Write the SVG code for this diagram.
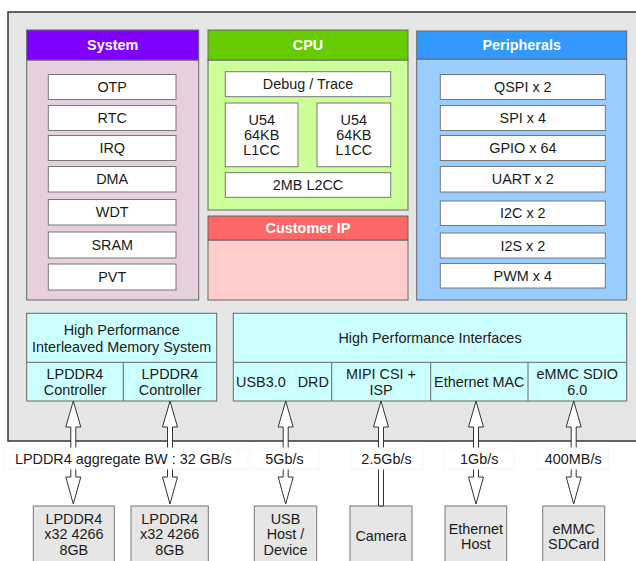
<svg xmlns="http://www.w3.org/2000/svg" width="636" height="561" viewBox="0 0 636 561">
<style>
text{font-family:"Liberation Sans",Arial,sans-serif;font-size:14.4px;fill:#1a1a1a;text-anchor:middle}
.hd{font-weight:bold;fill:#ffffff}
.it{fill:#ffffff;stroke:#777777;stroke-width:1}
.ct{stroke:#666666;stroke-width:1}
.bx{fill:#e6e6e6;stroke:#777777;stroke-width:1}
.cy{fill:#ccffff;stroke:#666666;stroke-width:1}
.ar{fill:#ffffff;stroke:#333333;stroke-width:1;stroke-linejoin:miter}
.lb{fill:#ffffff;stroke:#f6f6f6;stroke-width:1}
</style>
<rect width="636" height="561" fill="#ffffff"/>
<g id="soc">
<rect x="8" y="12" width="640" height="429" fill="#e6e6e6" stroke="#333333" stroke-width="1.5"/>
</g>
<g id="system">
<rect class="ct" x="26.7" y="60" width="172" height="240" fill="#e6d0de"/>
<rect class="ct" x="26.7" y="30" width="172" height="30" fill="#7f00ff"/>
<text class="hd" x="112.7" y="50">System</text>
<rect class="it" x="48.3" y="74.5" width="127.7" height="25"/><text x="112.2" y="92">OTP</text>
<rect class="it" x="48.3" y="105.5" width="127.7" height="25"/><text x="112.2" y="123">RTC</text>
<rect class="it" x="48.3" y="135.5" width="127.7" height="25"/><text x="112.2" y="153">IRQ</text>
<rect class="it" x="48.3" y="166.5" width="127.7" height="25.5"/><text x="112.2" y="184">DMA</text>
<rect class="it" x="48.3" y="199.5" width="127.7" height="25.5"/><text x="112.2" y="217">WDT</text>
<rect class="it" x="48.3" y="232" width="127.7" height="26"/><text x="112.2" y="250">SRAM</text>
<rect class="it" x="48.3" y="264" width="127.7" height="26"/><text x="112.2" y="282">PVT</text>
</g>
<g id="cpu">
<rect class="ct" x="208" y="60" width="200" height="150" fill="#ccff99"/>
<rect class="ct" x="208" y="30" width="200" height="30" fill="#66cc00"/>
<text class="hd" x="308" y="50">CPU</text>
<rect class="it" x="225.3" y="71.7" width="165.4" height="25"/><text x="308" y="89">Debug / Trace</text>
<rect class="it" x="225.3" y="103" width="72.7" height="63.7"/>
<text x="261.7" y="125">U54</text><text x="261.7" y="140">64KB</text><text x="261.7" y="155">L1CC</text>
<rect class="it" x="317" y="103" width="73.7" height="63.7"/>
<text x="353.8" y="125">U54</text><text x="353.8" y="140">64KB</text><text x="353.8" y="155">L1CC</text>
<rect class="it" x="225.3" y="172.7" width="165.4" height="24.6"/><text x="308" y="190">2MB L2CC</text>
</g>
<g id="customer-ip">
<rect class="ct" x="208" y="240" width="200" height="60" fill="#ffcccc"/>
<rect class="ct" x="208" y="216" width="200" height="24" fill="#ff6666"/>
<text class="hd" x="308" y="233">Customer IP</text>
</g>
<g id="peripherals">
<rect class="ct" x="416.7" y="59" width="210" height="241" fill="#99ccff"/>
<rect class="ct" x="416.7" y="31" width="210" height="28" fill="#3399ff"/>
<text class="hd" x="521.7" y="50">Peripherals</text>
<rect class="it" x="440.3" y="74.5" width="165" height="25"/><text x="522.8" y="92">QSPI x 2</text>
<rect class="it" x="440.3" y="105.5" width="165" height="25"/><text x="522.8" y="123">SPI x 4</text>
<rect class="it" x="440.3" y="135.5" width="165" height="25"/><text x="522.8" y="153">GPIO x 64</text>
<rect class="it" x="440.3" y="166.5" width="165" height="25.5"/><text x="522.8" y="184">UART x 2</text>
<rect class="it" x="440.3" y="201" width="165" height="24.5"/><text x="522.8" y="218">I2C x 2</text>
<rect class="it" x="440.3" y="233" width="165" height="25"/><text x="522.8" y="250.5">I2S x 2</text>
<rect class="it" x="440.3" y="263.5" width="165" height="24.5"/><text x="522.8" y="281">PWM x 4</text>
</g>
<g id="memory">
<rect class="cy" x="26.7" y="313.3" width="190" height="87.7"/>
<line class="ct" x1="26.7" y1="362.3" x2="216.7" y2="362.3"/>
<line class="ct" x1="123.3" y1="362.3" x2="123.3" y2="401"/>
<text x="121.7" y="334.5">High Performance</text>
<text x="121.7" y="352">Interleaved Memory System</text>
<text x="75" y="379">LPDDR4</text><text x="75" y="394.5">Controller</text>
<text x="170" y="379">LPDDR4</text><text x="170" y="394.5">Controller</text>
</g>
<g id="interfaces">
<rect class="cy" x="233.3" y="313.3" width="393.4" height="87.7"/>
<line class="ct" x1="233.3" y1="362.3" x2="626.7" y2="362.3"/>
<line class="ct" x1="331.7" y1="362.3" x2="331.7" y2="401"/>
<line class="ct" x1="430.7" y1="362.3" x2="430.7" y2="401"/>
<line class="ct" x1="528" y1="362.3" x2="528" y2="401"/>
<text x="430" y="342.5">High Performance Interfaces</text>
<text x="282.5" y="387" xml:space="preserve">USB3.0   DRD</text>
<text x="381" y="379">MIPI CSI +</text><text x="381" y="394.5">ISP</text>
<text x="479.3" y="387">Ethernet MAC</text>
<text x="577.3" y="379">eMMC SDIO</text><text x="577.3" y="394.5">6.0</text>
</g>
<g id="lpddr4-a"><rect class="bx" x="33.3" y="506" width="81" height="62"/>
<text x="73.8" y="523.5">LPDDR4</text><text x="73.8" y="539">x32 4266</text><text x="73.8" y="554.5">8GB</text></g>
<g id="lpddr4-b"><rect class="bx" x="131" y="506" width="77.3" height="62"/>
<text x="169.7" y="523.5">LPDDR4</text><text x="169.7" y="539">x32 4266</text><text x="169.7" y="554.5">8GB</text></g>
<g id="usb"><rect class="bx" x="254.3" y="506" width="62.4" height="62"/>
<text x="285.5" y="523.5">USB</text><text x="285.5" y="539">Host /</text><text x="285.5" y="554.5">Device</text></g>
<g id="camera"><rect class="bx" x="350" y="506" width="62" height="62"/>
<text x="381" y="541">Camera</text></g>
<g id="ethernet-host"><rect class="bx" x="445" y="506" width="61.7" height="62"/>
<text x="475.9" y="533.5">Ethernet</text><text x="475.9" y="548.5">Host</text></g>
<g id="emmc"><rect class="bx" x="542.7" y="506" width="62" height="62"/>
<text x="573.7" y="533.5">eMMC</text><text x="573.7" y="548.5">SDCard</text></g>
<g id="connectors">
<path class="ar" d="M73.3,401 L80.8,427 L75.8,427 L75.8,477 L80.8,477 L73.3,504 L65.8,477 L70.8,477 L70.8,427 L65.8,427 Z"/>
<path class="ar" d="M170,401 L177.5,427 L172.5,427 L172.5,477 L177.5,477 L170,504 L162.5,477 L167.5,477 L167.5,427 L162.5,427 Z"/>
<path class="ar" d="M285.7,401 L293.2,427 L288.2,427 L288.2,477 L293.2,477 L285.7,504 L278.2,477 L283.2,477 L283.2,427 L278.2,427 Z"/>
<path class="ar" d="M381,401 L388.5,427 L383.5,427 L383.5,506 L378.5,506 L378.5,427 L373.5,427 Z"/>
<path class="ar" d="M476,401 L483.5,427 L478.5,427 L478.5,477 L483.5,477 L476,504 L468.5,477 L473.5,477 L473.5,427 L468.5,427 Z"/>
<path class="ar" d="M573.7,401 L581.2,427 L576.2,427 L576.2,477 L581.2,477 L573.7,504 L566.2,477 L571.2,477 L571.2,427 L566.2,427 Z"/>
<rect class="lb" x="4" y="448" width="244" height="21"/>
<text x="123.3" y="463.5">LPDDR4 aggregate BW : 32 GB/s</text>
<rect class="lb" x="251" y="448" width="68" height="21"/>
<text x="284.5" y="463.5">5Gb/s</text>
<rect class="lb" x="351" y="448" width="71.7" height="21"/>
<text x="386.5" y="463.5">2.5Gb/s</text>
<rect class="lb" x="444" y="448" width="70" height="21"/>
<text x="479.3" y="463.5">1Gb/s</text>
<rect class="lb" x="537.7" y="448" width="71" height="21"/>
<text x="573.2" y="463.5">400MB/s</text>
</g>
</svg>
